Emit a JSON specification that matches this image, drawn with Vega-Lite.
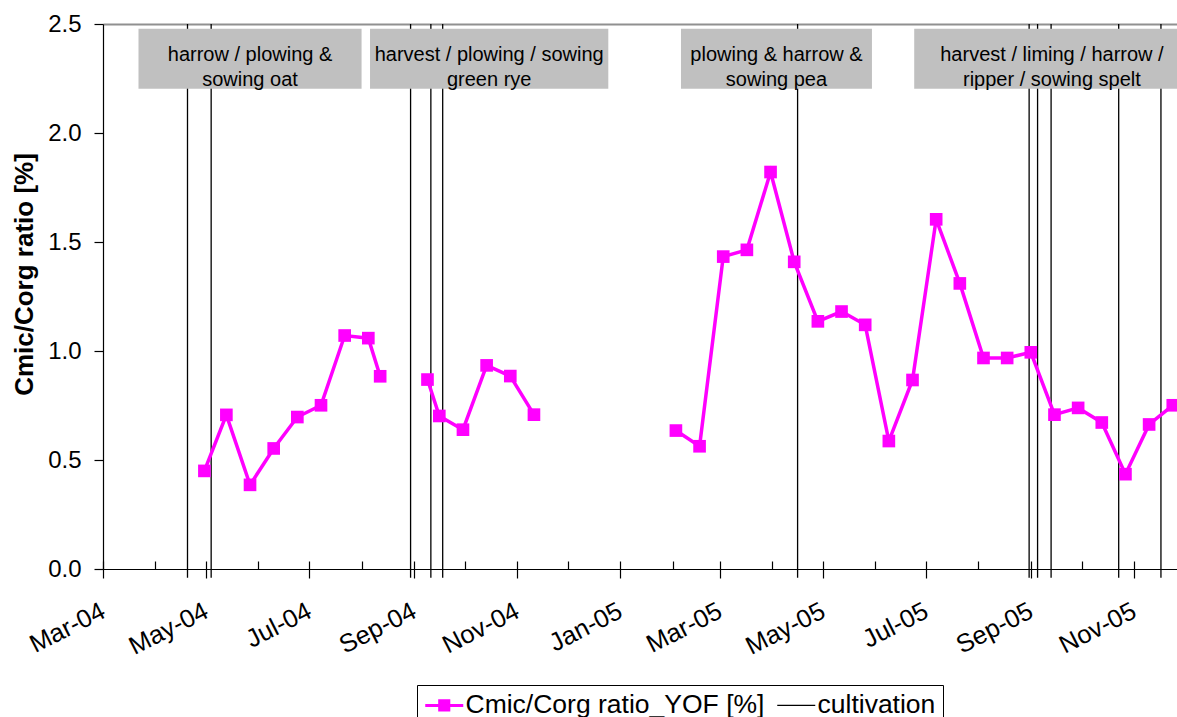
{
  "$schema": "https://vega.github.io/schema/vega-lite/v6.json",
  "width": 1074,
  "height": 545,
  "autosize": "none",
  "padding": {"left": 103, "top": 24, "right": 0, "bottom": 148},
  "background": "white",
  "config": {"view": {"stroke": null}, "font": "Liberation Sans"},
  "datasets": {
    "ratio": [
      {"date": "2004-04-30", "value": 0.450, "seg": 1},
      {"date": "2004-05-13", "value": 0.707, "seg": 1},
      {"date": "2004-05-27", "value": 0.386, "seg": 1},
      {"date": "2004-06-10", "value": 0.553, "seg": 1},
      {"date": "2004-06-24", "value": 0.697, "seg": 1},
      {"date": "2004-07-08", "value": 0.751, "seg": 1},
      {"date": "2004-07-22", "value": 1.071, "seg": 1},
      {"date": "2004-08-05", "value": 1.059, "seg": 1},
      {"date": "2004-08-12", "value": 0.884, "seg": 1},
      {"date": "2004-09-09", "value": 0.869, "seg": 2},
      {"date": "2004-09-16", "value": 0.702, "seg": 2},
      {"date": "2004-09-30", "value": 0.639, "seg": 2},
      {"date": "2004-10-14", "value": 0.934, "seg": 2},
      {"date": "2004-10-28", "value": 0.885, "seg": 2},
      {"date": "2004-11-11", "value": 0.708, "seg": 2},
      {"date": "2005-02-03", "value": 0.635, "seg": 3},
      {"date": "2005-02-17", "value": 0.563, "seg": 3},
      {"date": "2005-03-03", "value": 1.433, "seg": 3},
      {"date": "2005-03-17", "value": 1.464, "seg": 3},
      {"date": "2005-03-31", "value": 1.821, "seg": 3},
      {"date": "2005-04-14", "value": 1.409, "seg": 3},
      {"date": "2005-04-28", "value": 1.136, "seg": 3},
      {"date": "2005-05-12", "value": 1.181, "seg": 3},
      {"date": "2005-05-26", "value": 1.120, "seg": 3},
      {"date": "2005-06-09", "value": 0.587, "seg": 3},
      {"date": "2005-06-23", "value": 0.867, "seg": 3},
      {"date": "2005-07-07", "value": 1.604, "seg": 3},
      {"date": "2005-07-21", "value": 1.310, "seg": 3},
      {"date": "2005-08-04", "value": 0.968, "seg": 3},
      {"date": "2005-08-18", "value": 0.968, "seg": 3},
      {"date": "2005-09-01", "value": 0.994, "seg": 3},
      {"date": "2005-09-15", "value": 0.708, "seg": 3},
      {"date": "2005-09-29", "value": 0.739, "seg": 3},
      {"date": "2005-10-13", "value": 0.672, "seg": 3},
      {"date": "2005-10-27", "value": 0.435, "seg": 3},
      {"date": "2005-11-10", "value": 0.663, "seg": 3},
      {"date": "2005-11-24", "value": 0.751, "seg": 3}
    ],
    "cultivation": [
      {"date": "2004-04-20"},
      {"date": "2004-05-04"},
      {"date": "2004-08-30"},
      {"date": "2004-09-11"},
      {"date": "2004-09-18"},
      {"date": "2005-04-16"},
      {"date": "2005-08-31"},
      {"date": "2005-09-05"},
      {"date": "2005-09-13"},
      {"date": "2005-10-23"},
      {"date": "2005-11-17"}
    ],
    "notes": [
      {"start": "2004-03-22", "end": "2004-08-01", "label": "harrow / plowing &\nsowing oat"},
      {"start": "2004-08-06", "end": "2004-12-25", "label": "harvest / plowing / sowing\ngreen rye"},
      {"start": "2005-02-06", "end": "2005-05-30", "label": "plowing & harrow &\nsowing pea"},
      {"start": "2005-06-24", "end": "2005-12-04", "label": "harvest / liming / harrow /\nripper / sowing spelt"}
    ]
  },
  "resolve": {"axis": {"x": "independent", "y": "shared"}},
  "layer": [
    {
      "data": {"name": "cultivation"},
      "mark": {"type": "rule", "strokeWidth": 1.3},
      "encoding": {
        "x": {
          "field": "date", "type": "temporal",
          "scale": {"domain": [{"year": 2004, "month": 3, "date": 1}, {"year": 2005, "month": 11, "date": 26, "hours": 12}]},
          "axis": {
            "orient": "bottom", "title": null,
            "values": [
              {"year": 2004, "month": 3, "date": 1}, {"year": 2004, "month": 5, "date": 1},
              {"year": 2004, "month": 7, "date": 1}, {"year": 2004, "month": 9, "date": 1},
              {"year": 2004, "month": 11, "date": 1}, {"year": 2005, "month": 1, "date": 1},
              {"year": 2005, "month": 3, "date": 1}, {"year": 2005, "month": 5, "date": 1},
              {"year": 2005, "month": 7, "date": 1}, {"year": 2005, "month": 9, "date": 1},
              {"year": 2005, "month": 11, "date": 1}
            ],
            "format": "%b-%y",
            "grid": false,
            "domain": true, "domainColor": "black", "domainWidth": 1.2,
            "ticks": true, "tickSize": 9, "tickColor": "black", "tickWidth": 1.2,
            "labelAngle": -27, "labelAlign": "right", "labelBaseline": "middle",
            "labelPadding": 31, "labelFontSize": 25.5, "labelFont": "Liberation Sans", "labelColor": "black",
            "labelOverlap": false, "labelBound": false, "labelFlush": false
          }
        },
        "y": {
          "datum": -0.04, "type": "quantitative",
          "scale": {"domain": [0, 2.5], "nice": false, "zero": true},
          "axis": {
            "orient": "left",
            "title": "Cmic/Corg ratio [%]",
            "values": [0, 0.5, 1, 1.5, 2, 2.5], "format": ".1f",
            "grid": false, "domain": true, "domainColor": "black", "domainWidth": 1.2,
            "ticks": true, "tickSize": 9, "tickColor": "black", "tickWidth": 1.2,
            "labelFontSize": 24, "labelFont": "Liberation Sans", "labelColor": "black", "labelPadding": 13,
            "titleFontSize": 26, "titleFont": "Liberation Sans", "titleFontWeight": "bold", "titleColor": "black",
            "titlePadding": 10, "titleY": 250
          }
        },
        "y2": {"datum": 2.5},
        "color": {"datum": "cultivation"}
      }
    },
    {
      "data": {"name": "notes"},
      "mark": {"type": "rect", "fill": "#C0C0C0", "stroke": null},
      "encoding": {
        "x": {
          "field": "start", "type": "temporal",
          "axis": {
            "orient": "bottom", "title": null,
            "values": [
              {"year": 2004, "month": 3, "date": 1}, {"year": 2004, "month": 4, "date": 1},
              {"year": 2004, "month": 5, "date": 1}, {"year": 2004, "month": 6, "date": 1},
              {"year": 2004, "month": 7, "date": 1}, {"year": 2004, "month": 8, "date": 1},
              {"year": 2004, "month": 9, "date": 1}, {"year": 2004, "month": 10, "date": 1},
              {"year": 2004, "month": 11, "date": 1}, {"year": 2004, "month": 12, "date": 1},
              {"year": 2005, "month": 1, "date": 1}, {"year": 2005, "month": 2, "date": 1},
              {"year": 2005, "month": 3, "date": 1}, {"year": 2005, "month": 4, "date": 1},
              {"year": 2005, "month": 5, "date": 1}, {"year": 2005, "month": 6, "date": 1},
              {"year": 2005, "month": 7, "date": 1}, {"year": 2005, "month": 8, "date": 1},
              {"year": 2005, "month": 9, "date": 1}, {"year": 2005, "month": 10, "date": 1},
              {"year": 2005, "month": 11, "date": 1}
            ],
            "grid": false, "domain": false, "labels": false,
            "ticks": true, "tickSize": -8, "tickColor": "black", "tickWidth": 1.2
          }
        },
        "x2": {"field": "end"},
        "y": {"datum": 2.478, "type": "quantitative"},
        "y2": {"datum": 2.203}
      }
    },
    {
      "data": {"name": "notes"},
      "transform": [{"calculate": "(time(datum.start) + time(datum.end)) / 2", "as": "mid"}],
      "mark": {"type": "text", "font": "Liberation Sans", "fontSize": 20, "color": "black", "align": "center", "baseline": "middle", "lineBreak": "\n", "lineHeight": 25},
      "encoding": {
        "x": {
          "field": "mid", "type": "temporal",
          "axis": {
            "orient": "top", "title": null, "grid": false,
            "domain": true, "domainColor": "#909090", "domainWidth": 2,
            "ticks": false, "labels": false
          }
        },
        "y": {"datum": 2.357, "type": "quantitative"},
        "text": {"field": "label"}
      }
    },
    {
      "data": {"name": "ratio"},
      "mark": {"type": "line", "strokeWidth": 3.5},
      "encoding": {
        "x": {"field": "date", "type": "temporal", "axis": null},
        "y": {"field": "value", "type": "quantitative"},
        "detail": {"field": "seg"},
        "color": {
          "datum": "Cmic/Corg ratio_YOF [%]",
          "scale": {"domain": ["Cmic/Corg ratio_YOF [%]", "cultivation"], "range": ["#FF00FF", "#000000"]},
          "legend": {
            "title": null, "orient": "none", "legendX": 314, "legendY": 661,
            "direction": "horizontal", "columns": 2,
            "strokeColor": "black", "fillColor": "white", "padding": 7,
            "symbolSize": 1444, "symbolOffset": 7, "labelFontSize": 26.5, "labelFont": "Liberation Sans", "labelColor": "black",
            "labelLimit": 600, "columnPadding": 9, "labelOffset": 8,
            "encode": {
              "symbols": {
                "update": {
                  "shape": {"signal": "datum.value === 'cultivation' ? 'M-1,0H1' : 'M-1,0H1M-0.24,-0.24H0.24V0.24H-0.24Z'"},
                  "fill": {"signal": "datum.value === 'cultivation' ? 'transparent' : '#FF00FF'"},
                  "stroke": {"signal": "datum.value === 'cultivation' ? '#000000' : '#FF00FF'"},
                  "strokeWidth": {"signal": "datum.value === 'cultivation' ? 1.3 : 3"},
                  "opacity": {"value": 1}
                }
              }
            }
          }
        }
      }
    },
    {
      "data": {"name": "ratio"},
      "mark": {"type": "square", "size": 160, "opacity": 1, "filled": true},
      "encoding": {
        "x": {"field": "date", "type": "temporal", "axis": null},
        "y": {"field": "value", "type": "quantitative"},
        "color": {"datum": "Cmic/Corg ratio_YOF [%]"}
      }
    }
  ]
}
